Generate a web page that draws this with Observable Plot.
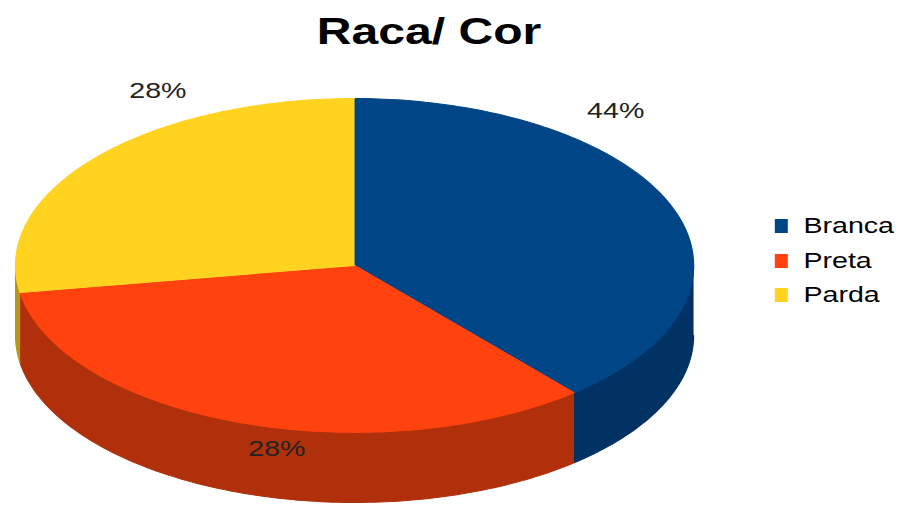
<!DOCTYPE html>
<html><head><meta charset="utf-8">
<script src="https://cdn.jsdelivr.net/npm/d3@7"></script>
<script src="https://cdn.jsdelivr.net/npm/@observablehq/plot@0.6"></script>
<style>
body{margin:0;background:#fff;font-family:"Liberation Sans",Arial,sans-serif;}
#wrap{position:relative;width:692px;height:505px;transform:scaleX(1.3);transform-origin:0 0;}
#title{height:64px;line-height:64px;font-size:37px;font-weight:bold;text-align:center;padding-right:32px;box-sizing:border-box;color:#000;}
#legend{position:absolute;left:596px;top:209px;}
.row{display:flex;align-items:center;height:34.5px;font-size:22px;color:#000;}
.sw{width:10px;height:14px;margin-right:12px;}
</style></head><body>
<div id="wrap"><div id="title">Raca/ Cor</div><div id="chart"></div><div id="legend"></div></div>
<script>
// ---- data ----
const categories = ["Branca", "Preta", "Parda"];
const percentLabels = ["44%", "28%", "28%"];
const shares = [38.8, 33.6, 27.6]; // share of the disc each slice covers as drawn
const topColors = ["#004586", "#ff420e", "#ffd320"];
const sideColors = ["#003263", "#b0300b", "#b8961a"];

// ---- layout ----
const depth = 0.42; // side height in pie-radius units
const labelPolar = [{a: 39.7, r: 1.206}, {a: 191.8, r: 1.121}, {a: 330.9, r: 1.193}];

const arcs = d3.pie().sort(null).value(d => d)(shares);
const step = Math.PI / 180;
function arcPts(a0, a1) {
  const n = Math.max(2, Math.ceil((a1 - a0) / step));
  return d3.range(n + 1).map(i => a0 + (a1 - a0) * i / n);
}
const topRows = [], sideRows = [];
arcs.forEach((a, i) => {
  const key = categories[i];
  topRows.push({key, x: 0, y: 0});
  arcPts(a.startAngle, a.endAngle).forEach(t => topRows.push({key, x: Math.sin(t), y: Math.cos(t)}));
  const s0 = Math.max(a.startAngle, Math.PI / 2), s1 = Math.min(a.endAngle, 3 * Math.PI / 2);
  if (s1 > s0) {
    const pts = arcPts(s0, s1);
    pts.forEach(t => sideRows.push({key, x: Math.sin(t), y: Math.cos(t)}));
    pts.slice().reverse().forEach(t => sideRows.push({key, x: Math.sin(t), y: Math.cos(t) - depth}));
  }
});
const labelRows = percentLabels.map((t, i) => {
  const p = labelPolar[i], rad = p.a * Math.PI / 180;
  return {text: t, x: p.r * Math.sin(rad), y: p.r * Math.cos(rad)};
});

const marks = [];
categories.forEach((c, i) => {
  marks.push(Plot.line(sideRows.filter(d => d.key === c), {x: "x", y: "y", fill: sideColors[i], stroke: sideColors[i], strokeWidth: 1}));
});
marks.push(Plot.line(topRows, {x: "x", y: "y", z: "key", fill: "key", stroke: "key", strokeWidth: 1}));
marks.push(Plot.text(labelRows, {x: "x", y: "y", text: "text", fontSize: 22, fill: "#222"}));

const chart = Plot.plot({
  width: 692, height: 441, margin: 0,
  x: {domain: [-1, 1], range: [11.5, 533], axis: null},
  y: {domain: [1, -1.42], range: [34, 438], axis: null},
  color: {domain: categories, range: topColors},
  style: {fontFamily: "Liberation Sans, Arial, sans-serif", background: "transparent", overflow: "visible"},
  marks
});
document.getElementById("chart").appendChild(chart);

const legend = document.getElementById("legend");
categories.forEach((c, i) => {
  const row = document.createElement("div");
  row.className = "row";
  const sw = document.createElement("span");
  sw.className = "sw";
  sw.style.background = topColors[i];
  const tx = document.createElement("span");
  tx.textContent = c;
  row.appendChild(sw); row.appendChild(tx);
  legend.appendChild(row);
});
</script>
</body></html>
